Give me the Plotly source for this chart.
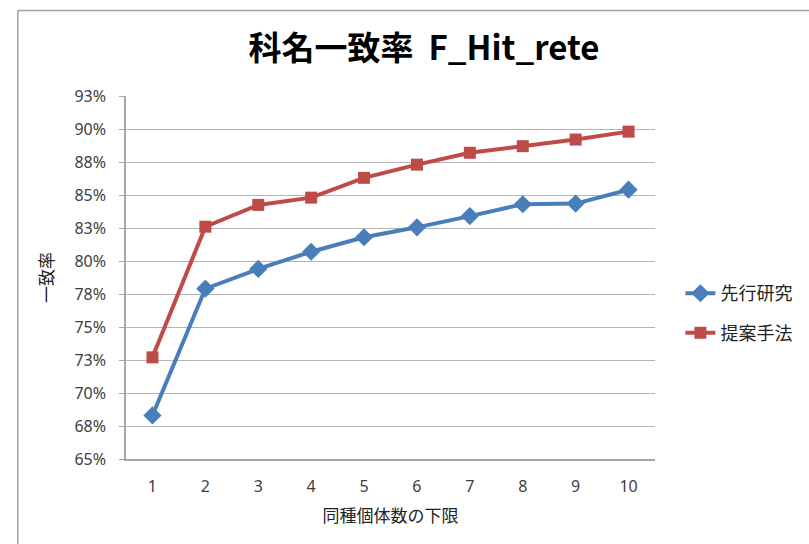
import plotly.graph_objects as go

categories = [1, 2, 3, 4, 5, 6, 7, 8, 9, 10]
prior_name = "先行研究"
prior_vals = [68.3, 77.9, 79.4, 80.7, 81.8, 82.55, 83.4, 84.3, 84.35, 85.4]
prop_name = "提案手法"
prop_vals = [72.7, 82.6, 84.25, 84.8, 86.3, 87.3, 88.2, 88.7, 89.2, 89.8]
y_tickvals = [65, 67.5, 70, 72.5, 75, 77.5, 80, 82.5, 85, 87.5, 90, 92.5]
y_ticktext = ["65%", "68%", "70%", "73%", "75%", "78%", "80%", "83%", "85%", "88%", "90%", "93%"]
title_text = "科名一致率&nbsp;&nbsp;F_Hit_rete"
x_title = "同種個体数の下限"
y_title = "一致率"

BLUE = "#4A7EBB"
RED = "#BE4B48"
TXT = "#404040"
GRID = "#B4B4B4"
FONT = "Noto Sans CJK JP"

fig = go.Figure()
fig.add_trace(go.Scatter(
    x=categories, y=prior_vals, name=prior_name, mode="lines+markers",
    line=dict(color=BLUE, width=4),
    marker=dict(symbol="diamond", size=14, color=BLUE),
    legendgroup="a",
))
fig.add_trace(go.Scatter(
    x=categories, y=prop_vals, name=prop_name, mode="lines+markers",
    line=dict(color=RED, width=4),
    marker=dict(symbol="square", size=12, color=RED),
    legendgroup="b",
))

fig.update_layout(
    width=809, height=544,
    margin=dict(l=126, r=150, t=96, b=85),
    paper_bgcolor="white", plot_bgcolor="white",
    font=dict(family=FONT, color=TXT, size=15),
    title=dict(text=title_text, x=424 / 809, xanchor="center", xref="container",
               y=1 - 48 / 544, yanchor="middle", yref="container",
               font=dict(family=FONT, size=33, color="black", weight="bold")),
    showlegend=True,
    legend=dict(x=1.048, xanchor="left", y=0.402, yanchor="middle",
                font=dict(family=FONT, size=18, color="#222222"),
                traceorder="grouped", tracegroupgap=13,
                bgcolor="rgba(0,0,0,0)"),
    shapes=[
        dict(type="line", xref="paper", yref="paper",
             x0=-0.2045, x1=-0.2045, y0=-0.3, y1=1.2355,
             line=dict(color="#A0A0A0", width=1.5)),
        dict(type="line", xref="paper", yref="paper",
             x0=-0.2045, x1=1.4, y0=1.2355, y1=1.2355,
             line=dict(color="#A0A0A0", width=1.5)),
    ],
)

fig.update_xaxes(
    range=[0.5, 10.5], tickvals=categories, ticktext=[str(c) for c in categories],
    showgrid=False, showline=True, linecolor="#A6A6A6", linewidth=1.5,
    ticks="", ticklabelstandoff=12,
    tickfont=dict(family="Noto Sans", size=16, color=TXT),
    title=dict(text=x_title, standoff=14, font=dict(family=FONT, size=17, color="#222222")),
    zeroline=False,
)
fig.update_yaxes(
    range=[65, 92.5], tickvals=y_tickvals, ticktext=y_ticktext,
    showgrid=True, gridcolor=GRID, gridwidth=1,
    showline=True, linecolor="#A6A6A6", linewidth=1.5,
    ticks="outside", ticklen=5, tickcolor="#A6A6A6", ticklabelstandoff=10,
    tickfont=dict(family="Noto Sans", size=16, color=TXT),
    title=dict(text=y_title, standoff=16, font=dict(family=FONT, size=17, color="#222222")),
    zeroline=False,
)

fig.write_html("out.html", config={"displayModeBar": False},
               post_script="document.body.style.margin='0';")
